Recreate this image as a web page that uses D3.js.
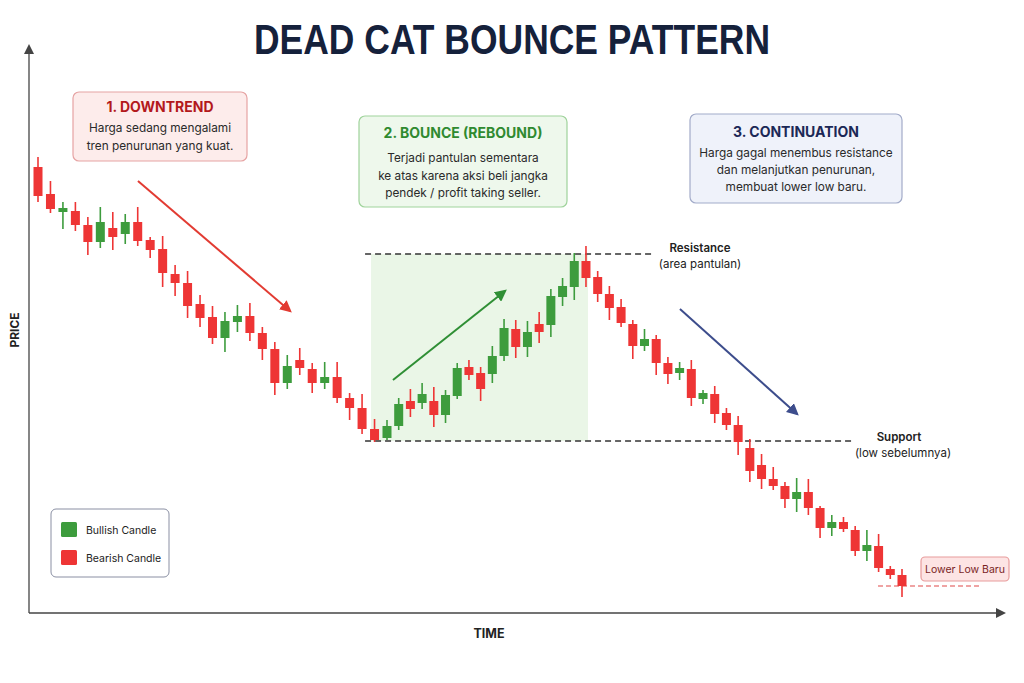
<!DOCTYPE html>
<html>
<head>
<meta charset="utf-8">
<script src="https://cdn.jsdelivr.net/npm/d3@7"></script>
<style>
  body { margin: 0; background: #fff; }
  svg { display: block; font-family: Inter, Roboto, "Noto Sans", sans-serif; }
</style>
</head>
<body>
<div id="chart"></div>
<script>
// candle data (price units)
const opens  = [473,446,428,429,415,398,412,406,418,400,391,366,357,336,323,302,318,324,307,291,
                257,280,271,257,263,242,232,211,202,214,239,237,239,225,244,273,267,266,284,311,
                293,316,315,343,353,379,363,346,333,316,294,301,277,267,271,241,246,227,215,192,
                175,161,154,141,148,132,112,118,110,89,94,71,65];
const highs  = [483,459,438,438,423,433,428,426,433,403,404,375,369,345,334,328,335,337,313,298,
                285,292,277,278,278,247,246,221,220,242,251,257,253,250,277,280,273,294,321,320,
                319,328,351,362,387,394,369,354,341,320,311,305,283,278,280,250,254,232,224,201,
                186,173,158,162,161,134,125,123,114,110,106,74,71];
const lows   = [438,427,411,409,385,392,390,396,394,382,353,344,322,313,296,288,308,299,280,245,
                251,265,247,251,237,220,206,198,200,210,223,231,213,217,241,260,239,257,279,282,
                283,297,303,334,340,353,338,320,313,281,289,265,256,260,234,236,217,210,185,158,
                151,150,132,128,125,102,104,108,84,79,68,61,43];
const closes = [444,431,432,415,398,418,403,418,399,390,367,357,334,322,302,319,324,307,291,257,
                274,272,257,263,242,232,211,200,214,236,231,246,225,245,272,265,251,284,312,293,
                308,308,344,354,379,362,346,332,317,294,301,277,266,272,242,247,226,215,198,169,
                161,154,141,148,132,112,118,111,89,95,72,65,54];

const resistance = 386;
const support = 199;
const lowerLow = 54;

const legendLabels = ["Bullish Candle", "Bearish Candle"];

const W = 1024, H = 683;
const green = "#3d9c3d", red = "#ee3535";

const candles = opens.map((o, i) => ({ i, o, h: highs[i], l: lows[i], c: closes[i] }));

const svg = d3.select("#chart").append("svg").attr("width", W).attr("height", H);

// the bars are a bit tighter after the bottom, hence the two-piece time scale
const x = d3.scaleLinear().domain([0, 28, candles.length - 1]).range([38, 387, 902]);
const y = d3.scaleLinear().domain([30, 490]).range([610, 150]);

const defs = svg.append("defs");
function marker(id, color, size) {
  defs.append("marker")
    .attr("id", id).attr("viewBox", "0 0 10 10")
    .attr("refX", 8).attr("refY", 5)
    .attr("markerWidth", size).attr("markerHeight", size)
    .attr("markerUnits", "userSpaceOnUse")
    .attr("orient", "auto")
    .append("path").attr("d", "M0,0 L10,5 L0,10 z").attr("fill", color);
}
marker("ax", "#444", 10);
marker("arRed", "#e23b32", 12);
marker("arGreen", "#2f8f35", 12);
marker("arBlue", "#3d4d8c", 12);

// title
svg.append("text")
  .attr("x", W / 2).attr("y", 54)
  .attr("text-anchor", "middle")
  .attr("textLength", 516).attr("lengthAdjust", "spacingAndGlyphs")
  .style("font", "bold 42px 'Liberation Sans', Arial, sans-serif")
  .attr("fill", "#15213b")
  .text("DEAD CAT BOUNCE PATTERN");

// bounce area shading
svg.append("rect")
  .attr("x", x(26.72)).attr("y", y(resistance))
  .attr("width", x(45.17) - x(26.72)).attr("height", y(support) - y(resistance))
  .attr("fill", "#eaf6e7");

// axes
svg.append("line").attr("x1", 29).attr("y1", 613).attr("x2", 29).attr("y2", 46)
  .attr("stroke", "#444").attr("stroke-width", 1.3).attr("marker-end", "url(#ax)");
svg.append("line").attr("x1", 29).attr("y1", 613).attr("x2", 1004).attr("y2", 613)
  .attr("stroke", "#444").attr("stroke-width", 1.3).attr("marker-end", "url(#ax)");

svg.append("text")
  .attr("transform", "translate(19,330) rotate(-90)")
  .attr("text-anchor", "middle")
  .style("font-size", "12px").style("font-weight", 700).attr("fill", "#222")
  .text("PRICE");
svg.append("text")
  .attr("x", 489).attr("y", 638).attr("text-anchor", "middle")
  .style("font-size", "12.5px").style("font-weight", 700).attr("fill", "#222")
  .text("TIME");

// resistance / support lines
svg.append("line")
  .attr("x1", x(26.24)).attr("x2", x(50.9)).attr("y1", y(resistance)).attr("y2", y(resistance))
  .attr("stroke", "#333").attr("stroke-width", 1.3).attr("stroke-dasharray", "6,4");
svg.append("line")
  .attr("x1", x(26.24)).attr("x2", x(67.81)).attr("y1", y(support)).attr("y2", y(support))
  .attr("stroke", "#333").attr("stroke-width", 1.3).attr("stroke-dasharray", "6,4");
svg.append("line")
  .attr("x1", x(69.95)).attr("x2", x(78.83)).attr("y1", y(lowerLow)).attr("y2", y(lowerLow))
  .attr("stroke", "#e04848").attr("stroke-width", 1.2).attr("stroke-dasharray", "5,3");

const lbl = (tx, ty, t, bold) => svg.append("text")
  .attr("x", tx).attr("y", ty).attr("text-anchor", "middle")
  .style("font-size", "11.5px").style("font-weight", bold ? 600 : 400)
  .attr("fill", "#222").text(t);
lbl(700, 252, "Resistance", true);
lbl(700, 268, "(area pantulan)", false);
lbl(899, 441, "Support", true);
lbl(903, 457, "(low sebelumnya)", false);

// candles
const g = svg.append("g");
g.selectAll("line.wick").data(candles).join("line")
  .attr("class", "wick")
  .attr("x1", d => x(d.i)).attr("x2", d => x(d.i))
  .attr("y1", d => y(d.h)).attr("y2", d => y(d.l))
  .attr("stroke", d => d.c >= d.o ? green : red).attr("stroke-width", 1.6);
g.selectAll("rect.body").data(candles).join("rect")
  .attr("class", "body")
  .attr("x", d => x(d.i) - 4.5).attr("width", 9)
  .attr("y", d => y(Math.max(d.o, d.c)))
  .attr("height", d => Math.max(2, Math.abs(y(d.o) - y(d.c))))
  .attr("fill", d => d.c >= d.o ? green : red);

// trend arrows
const arrow = (a, b, color, id) => svg.append("line")
  .attr("x1", x(a[0])).attr("y1", y(a[1])).attr("x2", x(b[0])).attr("y2", y(b[1]))
  .attr("stroke", color).attr("stroke-width", 2).attr("marker-end", `url(#${id})`);
arrow([8.02, 459], [20.22, 329], "#e23b32", "arRed");
arrow([28.51, 260], [38.08, 349], "#2f8f35", "arGreen");
arrow([53.03, 331], [63.03, 226], "#3d4d8c", "arBlue");

// annotation boxes
function box(bx, by, bw, bh, fill, stroke, title, tcolor, lines, ty, ly, lh) {
  svg.append("rect").attr("x", bx).attr("y", by).attr("width", bw).attr("height", bh)
    .attr("rx", 6).attr("fill", fill).attr("stroke", stroke).attr("stroke-width", 1.2);
  const cx = bx + bw / 2;
  svg.append("text").attr("x", cx).attr("y", ty).attr("text-anchor", "middle")
    .style("font-size", "14px").style("font-weight", 700).attr("fill", tcolor).text(title);
  lines.forEach((t, k) => svg.append("text").attr("x", cx).attr("y", ly + k * lh)
    .attr("text-anchor", "middle").style("font-size", "11.8px").attr("fill", "#2a2a2a").text(t));
}
box(73, 92, 174, 69, "#fdeceb", "#e6a3a3", "1. DOWNTREND", "#b3191c",
  ["Harga sedang mengalami", "tren penurunan yang kuat."], 112, 132, 18);
box(359, 116, 208, 91, "#eef8ec", "#9fd39b", "2. BOUNCE (REBOUND)", "#2f8a30",
  ["Terjadi pantulan sementara", "ke atas karena aksi beli jangka", "pendek / profit taking seller."], 138, 162, 17.5);
box(690, 114, 212, 89, "#eff2fa", "#a2abc9", "3. CONTINUATION", "#1b2856",
  ["Harga gagal menembus resistance", "dan melanjutkan penurunan,", "membuat lower low baru."], 137, 157, 17);

// lower low tag
svg.append("rect").attr("x", 921).attr("y", 557).attr("width", 88).attr("height", 24)
  .attr("rx", 4).attr("fill", "#fde4e4").attr("stroke", "#e89c9c").attr("stroke-width", 1.2);
svg.append("text").attr("x", 965).attr("y", 573).attr("text-anchor", "middle")
  .style("font-size", "10.5px").attr("fill", "#7a1f1f").text("Lower Low Baru");

// legend
svg.append("rect").attr("x", 51).attr("y", 509).attr("width", 118).attr("height", 68)
  .attr("rx", 5).attr("fill", "#fff").attr("stroke", "#8a8fa3").attr("stroke-width", 1);
const leg = svg.append("g").selectAll("g").data(legendLabels).join("g")
  .attr("transform", (d, k) => `translate(61,${522 + k * 28})`);
leg.append("rect").attr("width", 16).attr("height", 15).attr("rx", 1.5)
  .attr("fill", (d, k) => k === 0 ? green : red);
leg.append("text").attr("x", 25).attr("y", 11.5)
  .style("font-size", "10.5px").attr("fill", "#222").text(d => d);
</script>
</body>
</html>
